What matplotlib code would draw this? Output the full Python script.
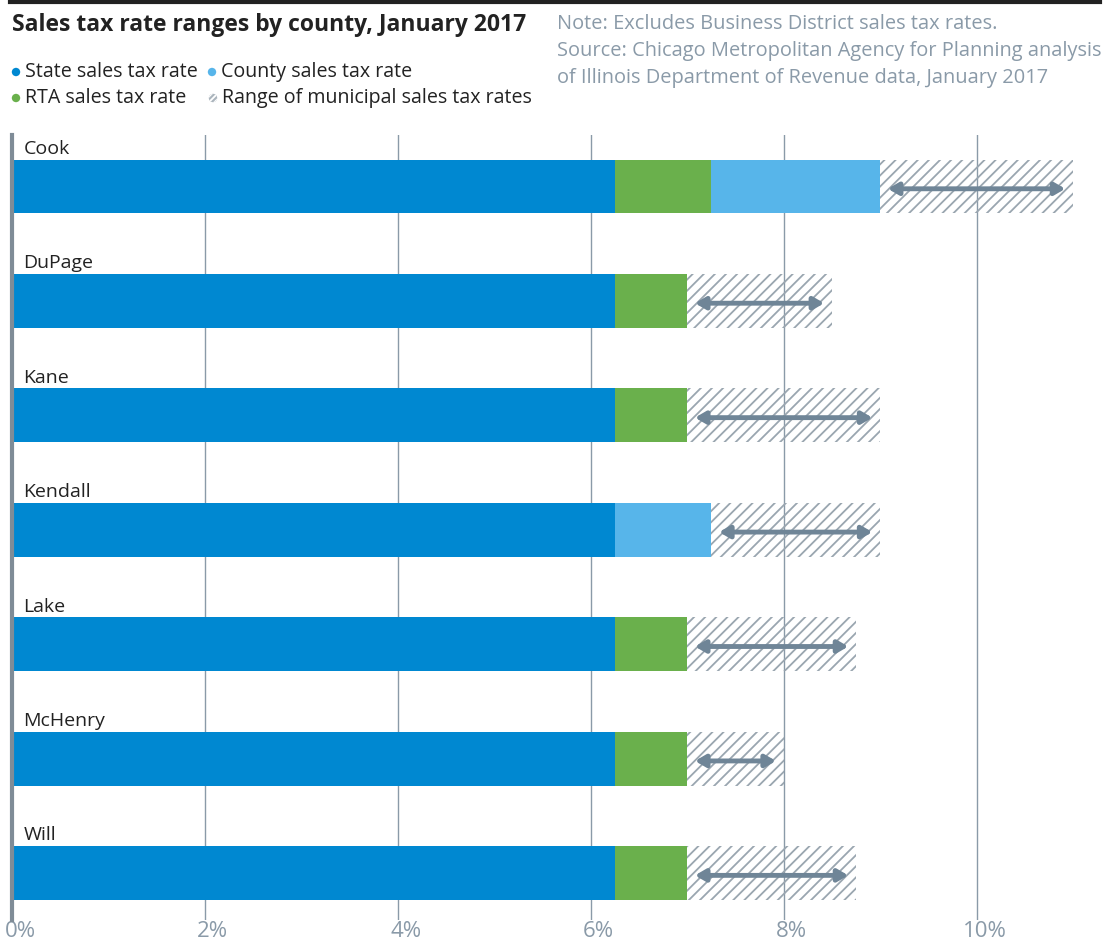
import matplotlib
matplotlib.use('Agg')
import matplotlib.pyplot as plt
from matplotlib.patches import Circle
from matplotlib.transforms import ScaledTranslation

# data (percent)
counties = ['Cook', 'DuPage', 'Kane', 'Kendall', 'Lake', 'McHenry', 'Will']
state_rate = [6.25, 6.25, 6.25, 6.25, 6.25, 6.25, 6.25]
rta_rate = [1.0, 0.75, 0.75, 0.0, 0.75, 0.75, 0.75]
county_rate = [1.75, 0.0, 0.0, 1.0, 0.0, 0.0, 0.0]
muni_max = [2.0, 1.5, 2.0, 1.75, 1.75, 1.0, 1.75]
xticks = [0, 2, 4, 6, 8, 10]
xtick_labels = ['0%', '2%', '4%', '6%', '8%', '10%']

c_state = '#0088d1'
c_rta = '#6ab04c'
c_county = '#57b5ea'
c_hatch = '#9aa6b0'
c_arrow = '#6f8597'
c_grid = '#8a9aa8'
c_note = '#8a9aa8'

plt.rcParams['font.family'] = ['Open Sans', 'DejaVu Sans']
plt.rcParams['hatch.linewidth'] = 1.3

W, H = 1105, 941
fig = plt.figure(figsize=(W / 100, H / 100), dpi=100)
ax = fig.add_axes([12 / W, 1 - 920 / H, 1090 / W, (920 - 135) / H])

y = list(range(len(counties)))
h = 0.47
left = [0.0] * len(counties)
ax.barh(y, state_rate, height=h, left=left, color=c_state, zorder=2)
left = [a + b for a, b in zip(left, state_rate)]
ax.barh(y, rta_rate, height=h, left=left, color=c_rta, zorder=2)
left = [a + b for a, b in zip(left, rta_rate)]
ax.barh(y, county_rate, height=h, left=left, color=c_county, zorder=2)
left = [a + b for a, b in zip(left, county_rate)]
ax.barh(y, muni_max, height=h, left=left, facecolor='none', edgecolor=c_hatch,
        hatch='///', linewidth=0, zorder=2)

inset = 0.08
for i in y:
    start = left[i]
    end = left[i] + muni_max[i]
    ax.annotate('', xy=(end - inset, i + 0.02), xytext=(start + inset, i + 0.02),
                arrowprops=dict(arrowstyle='<|-|>,head_length=0.6,head_width=0.35',
                                color=c_arrow, lw=3.5, shrinkA=0, shrinkB=0),
                zorder=3)
    ax.text(0.12, i - 0.25, counties[i], fontsize=14, color='#222222',
            va='bottom', ha='left')

ax.set_xlim(0, 11.3)
ax.set_ylim(6.41, -0.45)
ax.set_yticks([])
ax.set_xticks(xticks)
ax.set_xticklabels(xtick_labels, fontsize=16, color=c_note)
ax.tick_params(axis='x', length=0, pad=1)
offset = ScaledTranslation(8 / 100, 0, fig.dpi_scale_trans)
for lab in ax.get_xticklabels():
    lab.set_transform(lab.get_transform() + offset)
ax.grid(axis='x', color=c_grid, linewidth=1, zorder=0)
ax.set_axisbelow(True)
for s in ['top', 'right', 'bottom']:
    ax.spines[s].set_visible(False)
ax.spines['left'].set_color('#7f8c97')
ax.spines['left'].set_linewidth(3)

# top rule
fig.add_artist(plt.Line2D([10 / W, 1100 / W], [1 - 1.5 / H, 1 - 1.5 / H],
                          color='#222222', linewidth=3, transform=fig.transFigure))

# title and legend
fig.text(12 / W, 1 - 25 / H, 'Sales tax rate ranges by county, January 2017',
         fontsize=16.5, fontweight='bold', color='#222222', va='center', ha='left')

legend_items = [('State sales tax rate', c_state, None, 16, 72),
                ('County sales tax rate', c_county, None, 212, 72),
                ('RTA sales tax rate', c_rta, None, 16, 98),
                ('Range of municipal sales tax rates', '#aab4bc', 'white', 213, 98)]
for label, fc, hc, px, py in legend_items:
    if hc is None:
        circ = Circle((px / 100, (H - py) / 100), 0.042, transform=fig.dpi_scale_trans,
                      facecolor=fc, linewidth=0)
    else:
        circ = Circle((px / 100, (H - py) / 100), 0.042, transform=fig.dpi_scale_trans,
                      facecolor=fc, edgecolor=hc, hatch='//////', linewidth=0)
    fig.add_artist(circ)
    fig.text((px + 9) / W, 1 - py / H, label, fontsize=14.1, color='#222222',
             va='center', ha='left')

note = ['Note: Excludes Business District sales tax rates.',
        'Source: Chicago Metropolitan Agency for Planning analysis',
        'of Illinois Department of Revenue data, January 2017']
for k, line in enumerate(note):
    fig.text(557 / W, 1 - (24 + 27 * k) / H, line, fontsize=14.4, color=c_note,
             va='center', ha='left')

plt.savefig('out.png', dpi=100)
